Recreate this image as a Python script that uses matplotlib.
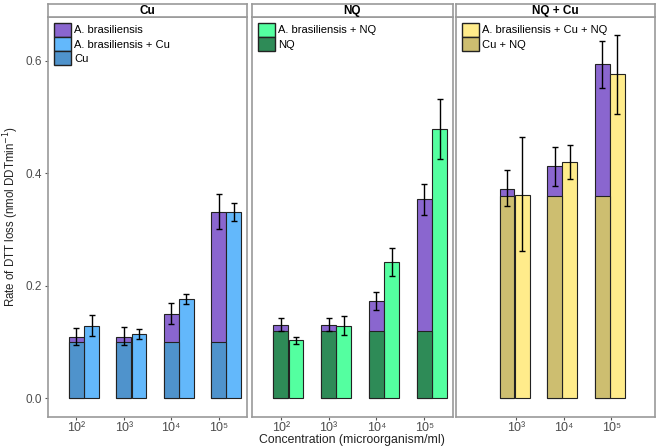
import numpy as np
import matplotlib
matplotlib.use("Agg")
import matplotlib.pyplot as plt
from matplotlib.patches import Patch

plt.rcParams['font.family'] = ['Liberation Sans', 'DejaVu Sans']

# %% data
conc = ['10²', '10³', '10⁴', '10⁵']
conc_nqcu = ['10³', '10⁴', '10⁵']

# Cu panel
cu_abras = [0.108, 0.108, 0.150, 0.332]
cu_abras_lo = [0.095, 0.095, 0.132, 0.300]
cu_abras_hi = [0.124, 0.126, 0.169, 0.363]
cu_base = [0.10, 0.10, 0.10, 0.10]
cu_mix = [0.129, 0.114, 0.176, 0.332]
cu_mix_lo = [0.110, 0.105, 0.167, 0.316]
cu_mix_hi = [0.148, 0.123, 0.185, 0.347]

# NQ panel
nq_abras = [0.130, 0.130, 0.172, 0.354]
nq_abras_lo = [0.120, 0.120, 0.156, 0.326]
nq_abras_hi = [0.142, 0.142, 0.188, 0.381]
nq_base = [0.12, 0.12, 0.12, 0.12]
nq_mix = [0.103, 0.128, 0.242, 0.479]
nq_mix_lo = [0.097, 0.112, 0.217, 0.426]
nq_mix_hi = [0.109, 0.146, 0.267, 0.533]

# NQ + Cu panel
nqcu_abras = [0.372, 0.413, 0.594]
nqcu_abras_lo = [0.342, 0.378, 0.552]
nqcu_abras_hi = [0.405, 0.447, 0.636]
nqcu_base = [0.36, 0.36, 0.36]
nqcu_mix = [0.362, 0.420, 0.576]
nqcu_mix_lo = [0.262, 0.390, 0.505]
nqcu_mix_hi = [0.464, 0.450, 0.646]

purple = '#8A66CF'

panels = [
    dict(title='Cu', ticks=conc, pos=np.arange(1, 5), xlim=(0.4, 4.6),
         off=(0.0, 0.32), abras=cu_abras, lo=cu_abras_lo, hi=cu_abras_hi,
         base=cu_base, mix=cu_mix, mlo=cu_mix_lo, mhi=cu_mix_hi,
         cbase='#4F93CC', cmix='#63B8FB',
         legend=[('A. brasiliensis', purple), ('A. brasiliensis + Cu', '#63B8FB'), ('Cu', '#4F93CC')]),
    dict(title='NQ', ticks=conc, pos=np.arange(1, 5), xlim=(0.4, 4.6),
         off=(0.0, 0.32), abras=nq_abras, lo=nq_abras_lo, hi=nq_abras_hi,
         base=nq_base, mix=nq_mix, mlo=nq_mix_lo, mhi=nq_mix_hi,
         cbase='#2E8B57', cmix='#54FFA0',
         legend=[('A. brasiliensis + NQ', '#54FFA0'), ('NQ', '#2E8B57')]),
    dict(title='NQ + Cu', ticks=conc_nqcu, pos=np.arange(2, 5), xlim=(0.74, 4.92),
         off=(-0.19, 0.13), abras=nqcu_abras, lo=nqcu_abras_lo, hi=nqcu_abras_hi,
         base=nqcu_base, mix=nqcu_mix, mlo=nqcu_mix_lo, mhi=nqcu_mix_hi,
         cbase='#CDBE70', cmix='#FFEC8B',
         legend=[('A. brasiliensis + Cu + NQ', '#FFEC8B'), ('Cu + NQ', '#CDBE70')]),
]

fig = plt.figure(figsize=(6.6, 4.48), dpi=100)
lefts = [48, 252, 456]
widths = [199, 201, 199]
frame_col = '#9a9a9a'
w = 0.31

for k, p in enumerate(panels):
    ax = fig.add_axes([lefts[k] / 660, 1 - 416.7 / 448, widths[k] / 660, 399.7 / 448])
    x = p['pos']
    xl = x + p['off'][0]
    xr = x + p['off'][1]
    ax.bar(xl, p['abras'], width=w, color=purple, edgecolor='#222222', linewidth=0.8, zorder=2)
    ax.bar(xl, p['base'], width=w, color=p['cbase'], edgecolor='#222222', linewidth=0.8, zorder=3)
    ax.bar(xr, p['mix'], width=w, color=p['cmix'], edgecolor='#222222', linewidth=0.8, zorder=2)
    ab = np.array(p['abras'])
    mx = np.array(p['mix'])
    ax.errorbar(xl, ab, yerr=[ab - np.array(p['lo']), np.array(p['hi']) - ab], fmt='none',
                ecolor='black', elinewidth=1.0, capsize=2, capthick=1.0, zorder=4)
    ax.errorbar(xr, mx, yerr=[mx - np.array(p['mlo']), np.array(p['mhi']) - mx], fmt='none',
                ecolor='black', elinewidth=1.0, capsize=2, capthick=1.0, zorder=4)

    ax.set_xlim(*p['xlim'])
    ax.set_ylim(-0.033, 0.678)
    ax.set_xticks(x)
    ax.set_xticklabels(p['ticks'], fontsize=9, color='#4d4d4d')
    ax.set_yticks([0.0, 0.2, 0.4, 0.6])
    if k == 0:
        ax.set_yticklabels(['0.0', '0.2', '0.4', '0.6'], fontsize=8.5, color='#4d4d4d')
        ax.set_ylabel('Rate of DTT loss (nmol DDTmin$^{-1}$)', fontsize=8.3, color='#222222', labelpad=3)
    else:
        ax.tick_params(axis='y', left=False, labelleft=False)
    ax.tick_params(axis='both', length=2.5, width=0.8, color='#555555', pad=2)
    ax.tick_params(axis='x', pad=1.5)
    for s in ax.spines.values():
        s.set_color(frame_col)
        s.set_linewidth(1.2)

    handles = [Patch(facecolor=c, edgecolor='#222222', linewidth=1.0, label=l) for l, c in p['legend']]
    ax.legend(handles=handles, loc='upper left', bbox_to_anchor=(0.0, 1.0), frameon=False,
              fontsize=8, handlelength=1.55, handleheight=1.6, handletextpad=0.3,
              labelspacing=0.0, borderaxespad=0.3, borderpad=0.2)

    # strip on top
    sax = fig.add_axes([lefts[k] / 660, 1 - 17 / 448, widths[k] / 660, 13 / 448])
    sax.set_xticks([])
    sax.set_yticks([])
    for s in sax.spines.values():
        s.set_color(frame_col)
        s.set_linewidth(1.2)
    sax.text(0.5, 0.45, p['title'], ha='center', va='center', fontsize=8.5,
             fontweight='bold', transform=sax.transAxes)

fig.text(352 / 660, 1 - 440 / 448, 'Concentration (microorganism/ml)', ha='center', va='center',
         fontsize=8.8, color='#222222')

fig.savefig('out.png', dpi=100)
